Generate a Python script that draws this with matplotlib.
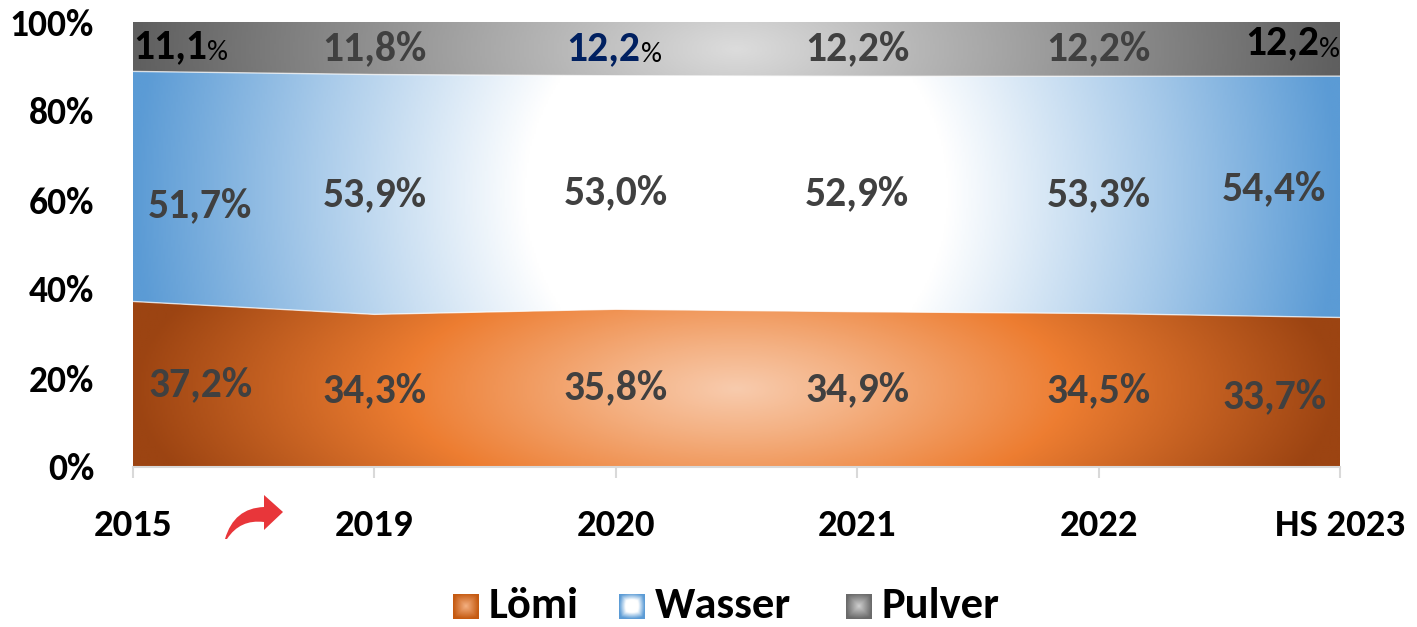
import numpy as np
import matplotlib
matplotlib.use("Agg")
import matplotlib.pyplot as plt
from matplotlib import font_manager as fm
from matplotlib.colors import LinearSegmentedColormap
from matplotlib.patches import Polygon, PathPatch
from matplotlib.path import Path

# data (percent shares per year)
years = ["2015", "2019", "2020", "2021", "2022", "HS 2023"]
loemi = [37.2, 34.3, 35.8, 34.9, 34.5, 33.7]
wasser = [51.7, 53.9, 53.0, 52.9, 53.3, 54.4]
pulver = [11.1, 11.8, 12.2, 12.2, 12.2, 12.2]
names = ["Lömi", "Wasser", "Pulver"]

# pick a narrow, Calibri-like face if there is one
have = {f.name for f in fm.fontManager.ttflist}
font = next((f for f in ["Carlito", "Asap Condensed", "Liberation Sans Narrow"] if f in have),
            "DejaVu Sans")
plt.rcParams["font.family"] = [font, "DejaVu Sans"]

cmaps = [
    LinearSegmentedColormap.from_list("o", [(0, "#F8CBAD"), (0.2, "#F4B183"),
                                            (0.55, "#ED7D31"), (1, "#9C4412")]),
    LinearSegmentedColormap.from_list("b", [(0, "#FFFFFF"), (0.35, "#FFFFFF"),
                                            (0.7, "#A9CBEA"), (1, "#5B9BD5")]),
    LinearSegmentedColormap.from_list("g", [(0, "#DCDCDC"), (1, "#5F5F5F")]),
]
vert = [0.35, 0.2, 0.1]

data = np.array([loemi, wasser, pulver])
norm = data / data.sum(axis=0) * 100
tops = np.cumsum(norm, axis=0)
bots = tops - norm
x = np.arange(len(years))
xmax = x[-1]

fig = plt.figure(figsize=(14.17, 6.27), dpi=100)
W, H = 1417, 627
ax = fig.add_axes([133 / W, 1 - 467 / H, (1340 - 133) / W, (467 - 22) / H])

gx, gy = np.meshgrid(np.linspace(0, xmax, 700), np.linspace(0, 100, 400))
for i in range(3):
    cy = np.mean((tops[i] + bots[i]) / 2)
    hh = np.mean(norm[i]) / 2
    t = np.sqrt(((gx - xmax / 2) / (xmax / 2)) ** 2 + (vert[i] * (gy - cy) / hh) ** 2)
    img = cmaps[i](np.clip(t, 0, 1))
    im = ax.imshow(img, extent=[0, xmax, 0, 100], origin="lower",
                   aspect="auto", interpolation="bilinear", zorder=1)
    verts = np.concatenate([np.column_stack([x, tops[i]]),
                            np.column_stack([x[::-1], bots[i][::-1]])])
    poly = Polygon(verts, closed=True, facecolor="none", edgecolor="none",
                   transform=ax.transData)
    ax.add_patch(poly)
    im.set_clip_path(poly)
    if i < 2:
        ax.plot(x, tops[i], color="white", lw=1.0, alpha=0.7, zorder=2)

ax.set_xlim(0, xmax)
ax.set_ylim(0, 100)
for s in ["top", "right", "left"]:
    ax.spines[s].set_visible(False)
ax.spines["bottom"].set_color("#D9D9D9")
ax.spines["bottom"].set_linewidth(1.5)
ax.set_xticks(x)
ax.set_xticklabels(years, fontsize=28, fontweight="bold")
ax.set_yticks(np.arange(0, 101, 20))
ax.set_yticklabels([f"{v}%" for v in range(0, 101, 20)], fontsize=27, fontweight="bold")
ax.tick_params(axis="x", length=8, width=1.5, color="#D9D9D9", pad=22)
ax.tick_params(axis="y", length=0, pad=28)

lab_col = "#404040"
lab_fs = 30
pct_fs = 21
# small vertical nudges (points) for the end labels, as placed in the original
nudge = {(1, 0): -14, (1, 5): 6, (0, 5): -3}


def fmt(v):
    return f"{v:.1f}".replace(".", ",")


for i in range(3):
    for j in range(len(years)):
        yc = (tops[i][j] + bots[i][j]) / 2
        dy = nudge.get((i, j), 0)
        if i == 2 and j in (0, 2, 5):
            continue
        if j == 0:
            ax.annotate(fmt(data[i][j]) + "%", (x[j], yc), xytext=(11, dy),
                        textcoords="offset points", ha="left", va="center",
                        fontsize=lab_fs, fontweight="bold", color=lab_col, zorder=5)
        elif j == len(years) - 1:
            ax.annotate(fmt(data[i][j]) + "%", (x[j], yc), xytext=(-10, dy),
                        textcoords="offset points", ha="right", va="center",
                        fontsize=lab_fs, fontweight="bold", color=lab_col, zorder=5)
        else:
            ax.text(x[j], yc, fmt(data[i][j]) + "%", ha="center", va="center",
                    fontsize=lab_fs, fontweight="bold", color=lab_col, zorder=5)

# Pulver labels with small "%"
yc0 = (tops[2] + bots[2]) / 2
t1 = ax.text(x[0], yc0[0], fmt(pulver[0]), ha="left", va="center",
             fontsize=lab_fs, fontweight="bold", color="black", zorder=5)
ax.annotate("%", xy=(1, 0), xycoords=t1, ha="left", va="bottom",
            fontsize=pct_fs, color="black", zorder=5)
t2 = ax.text(x[2] - 0.05, yc0[2], fmt(pulver[2]), ha="center", va="center",
             fontsize=lab_fs, fontweight="bold", color="#002060", zorder=5)
ax.annotate("%", xy=(1, 0), xycoords=t2, ha="left", va="bottom",
            fontsize=pct_fs, color="black", zorder=5)
t3 = ax.text(x[-1], yc0[-1], "%", ha="right", va="center",
             fontsize=pct_fs, color="black", zorder=5)
ax.annotate(fmt(pulver[-1]), xy=(0, 0), xycoords=t3, ha="right", va="bottom",
            fontsize=lab_fs, fontweight="bold", color="black", zorder=5)

# red curved arrow between 2015 and 2019 (pixel coords, y from top)
pts = [(225, 539), (234, 508), (264, 507), (264, 495), (283, 512),
       (264, 530), (264, 522), (240, 519), (227, 539), (225, 539)]
codes = [Path.MOVETO, Path.CURVE3, Path.CURVE3, Path.LINETO, Path.LINETO,
         Path.LINETO, Path.LINETO, Path.CURVE3, Path.CURVE3, Path.CLOSEPOLY]
arrow_path = Path([(px / W, 1 - py / H) for px, py in pts], codes)
fig.patches.append(PathPatch(arrow_path, transform=fig.transFigure,
                             facecolor="#E8363A", edgecolor="none"))

# legend with gradient squares
sq_cmaps = [
    LinearSegmentedColormap.from_list("lo", ["#F4B183", "#C55A11"]),
    LinearSegmentedColormap.from_list("lb", ["#FFFFFF", "#FFFFFF", "#5B9BD5"]),
    LinearSegmentedColormap.from_list("lg", ["#D0D0D0", "#6A6A6A"]),
]
sq_x = [453, 619, 846]
for k in range(3):
    lax = fig.add_axes([sq_x[k] / W, 1 - 619 / H, 26 / W, 25 / H])
    u, v = np.meshgrid(np.linspace(-1, 1, 40), np.linspace(-1, 1, 40))
    r = np.clip(np.maximum(np.abs(u), np.abs(v)) * 0.6 + np.hypot(u, v) * 0.4, 0, 1)
    lax.imshow(sq_cmaps[k](r), aspect="auto", interpolation="bilinear")
    lax.axis("off")
    fig.text((sq_x[k] + 36) / W, 1 - 606 / H, names[k], ha="left", va="center",
             fontsize=32, fontweight="bold", color="black")

fig.savefig("out.png", dpi=100)
